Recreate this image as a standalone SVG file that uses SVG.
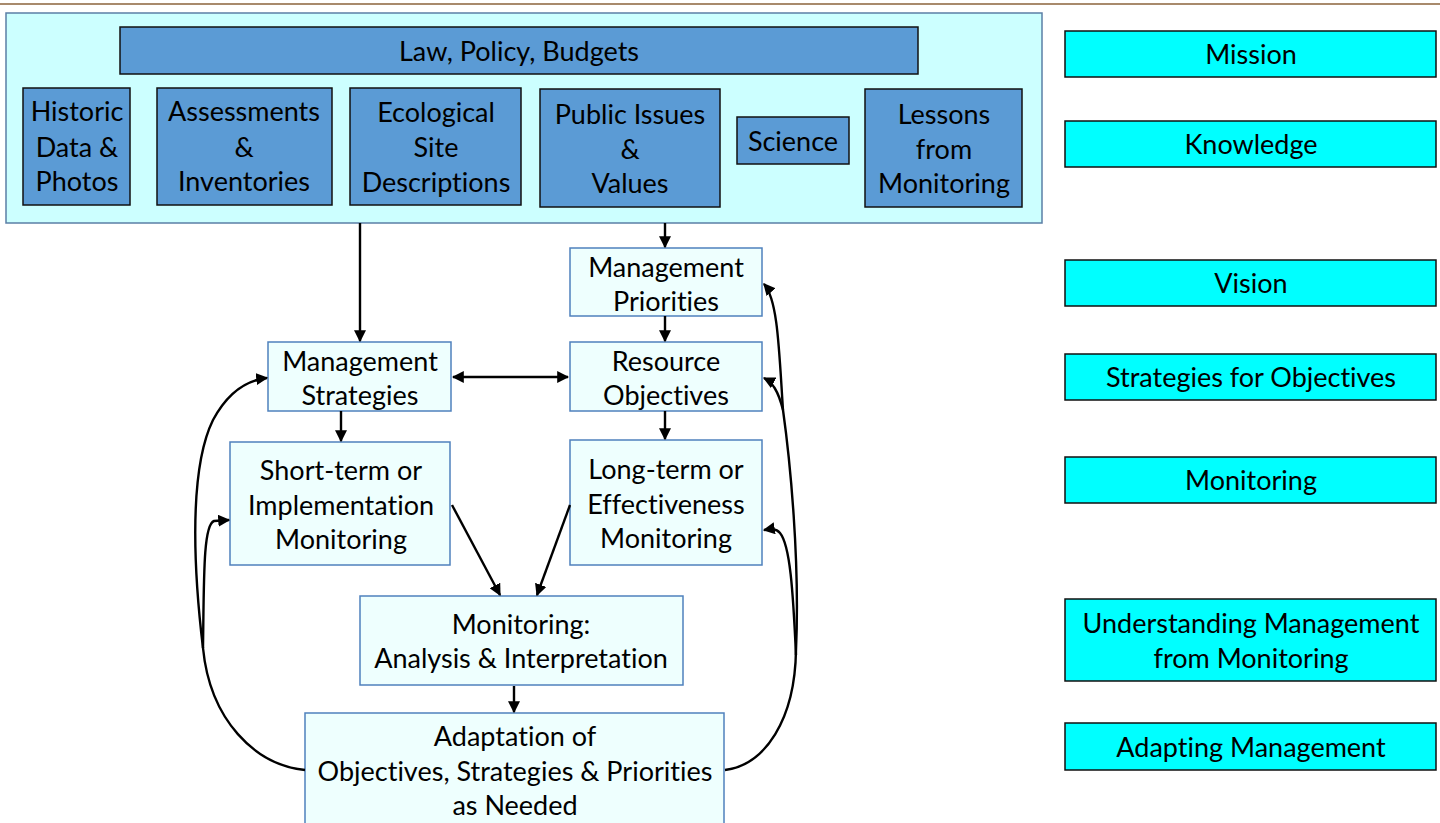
<svg xmlns="http://www.w3.org/2000/svg" width="1440" height="823" viewBox="0 0 1440 823">
<defs>
<style>
text{font-family:Lato,"Open Sans","Liberation Sans",sans-serif;font-size:27px;fill:#000;text-anchor:middle;font-variant-ligatures:none;font-feature-settings:"liga" 0}
.cont{fill:#ccffff;stroke:#5b7fa6;stroke-width:1.5}
.dark{fill:#5b9bd5;stroke:#111;stroke-width:1.5}
.light{fill:#eefffe;stroke:#4f81bd;stroke-width:1.5}
.side{fill:#00ffff;stroke:#111;stroke-width:1.5}
.c{fill:none;stroke:#000;stroke-width:2.4}
</style>
<marker id="ah" viewBox="0 0 10 10" refX="9" refY="5" markerWidth="5" markerHeight="5" orient="auto-start-reverse" markerUnits="strokeWidth">
<path d="M0,0 L10,5 L0,10 z" fill="#000"/>
</marker>
</defs>
<rect width="1440" height="823" fill="#fff"/>
<line x1="0" y1="4" x2="1440" y2="4" stroke="#a88a6c" stroke-width="2"/>

<g id="knowledge-box">
<rect class="cont" x="6" y="13" width="1036" height="210"/>
</g>
<g id="law"><rect class="dark" x="120" y="27" width="798" height="47"/><text x="519" y="61">Law, Policy, Budgets</text></g>
<g id="historic"><rect class="dark" x="23" y="88" width="107" height="117"/><text x="77" y="121">Historic</text><text x="77" y="157">Data &amp;</text><text x="77" y="191">Photos</text></g>
<g id="assessments"><rect class="dark" x="157" y="88" width="175" height="117"/><text x="244" y="121">Assessments</text><text x="244" y="157">&amp;</text><text x="244" y="191">Inventories</text></g>
<g id="ecological"><rect class="dark" x="350" y="88" width="171" height="117"/><text x="436" y="122">Ecological</text><text x="436" y="157">Site</text><text x="436" y="192">Descriptions</text></g>
<g id="public"><rect class="dark" x="540" y="89" width="180" height="118"/><text x="630" y="124">Public Issues</text><text x="630" y="159">&amp;</text><text x="630" y="193">Values</text></g>
<g id="science"><rect class="dark" x="737" y="117" width="112" height="47"/><text x="793" y="151">Science</text></g>
<g id="lessons"><rect class="dark" x="865" y="89" width="157" height="118"/><text x="944" y="124">Lessons</text><text x="944" y="159">from</text><text x="944" y="193">Monitoring</text></g>

<g id="mgmt-priorities"><rect class="light" x="570" y="248" width="192" height="68"/><text x="666" y="277">Management</text><text x="666" y="311">Priorities</text></g>
<g id="mgmt-strategies"><rect class="light" x="268" y="342" width="183" height="69"/><text x="360" y="371">Management</text><text x="360" y="405">Strategies</text></g>
<g id="resource-objectives"><rect class="light" x="570" y="342" width="192" height="69"/><text x="666" y="371">Resource</text><text x="666" y="405">Objectives</text></g>
<g id="short-term"><rect class="light" x="230" y="442" width="220" height="123"/><text x="341" y="480">Short-term or</text><text x="341" y="515">Implementation</text><text x="341" y="549">Monitoring</text></g>
<g id="long-term"><rect class="light" x="570" y="440" width="192" height="125"/><text x="666" y="479">Long-term or</text><text x="666" y="514">Effectiveness</text><text x="666" y="548">Monitoring</text></g>
<g id="analysis"><rect class="light" x="360" y="596" width="323" height="89"/><text x="521" y="634">Monitoring:</text><text x="521" y="668">Analysis &amp; Interpretation</text></g>
<g id="adaptation"><rect class="light" x="305" y="713" width="419" height="120"/><text x="515" y="746">Adaptation of</text><text x="515" y="781">Objectives, Strategies &amp; Priorities</text><text x="515" y="815">as Needed</text></g>

<g id="side-mission"><rect class="side" x="1065" y="31" width="371" height="46"/><text x="1251" y="64">Mission</text></g>
<g id="side-knowledge"><rect class="side" x="1065" y="121" width="371" height="46"/><text x="1251" y="154">Knowledge</text></g>
<g id="side-vision"><rect class="side" x="1065" y="260" width="371" height="46"/><text x="1251" y="293">Vision</text></g>
<g id="side-strategies"><rect class="side" x="1065" y="354" width="371" height="46"/><text x="1251" y="387">Strategies for Objectives</text></g>
<g id="side-monitoring"><rect class="side" x="1065" y="457" width="371" height="46"/><text x="1251" y="490">Monitoring</text></g>
<g id="side-understanding"><rect class="side" x="1065" y="599" width="371" height="82"/><text x="1251" y="633">Understanding Management</text><text x="1251" y="668">from Monitoring</text></g>
<g id="side-adapting"><rect class="side" x="1065" y="723" width="371" height="47"/><text x="1251" y="757">Adapting Management</text></g>

<g id="connectors">
<line class="c" x1="360" y1="223" x2="360" y2="341" marker-end="url(#ah)"/>
<line class="c" x1="665" y1="223" x2="665" y2="247" marker-end="url(#ah)"/>
<line class="c" x1="665" y1="316" x2="665" y2="341" marker-end="url(#ah)"/>
<line class="c" x1="665" y1="411" x2="665" y2="439" marker-end="url(#ah)"/>
<line class="c" x1="341" y1="411" x2="341" y2="441" marker-end="url(#ah)"/>
<line class="c" x1="453" y1="377" x2="568" y2="377" marker-start="url(#ah)" marker-end="url(#ah)"/>
<line class="c" x1="452" y1="505" x2="500" y2="595" marker-end="url(#ah)"/>
<line class="c" x1="570" y1="505" x2="537" y2="595" marker-end="url(#ah)"/>
<line class="c" x1="514" y1="686" x2="514" y2="712" marker-end="url(#ah)"/>
<path class="c" d="M305,770 C255,765 210,720 203,648 C196,590 186,475 213,420 C228,392 248,380 267,378" marker-end="url(#ah)"/>
<path class="c" d="M203,648 C204,580 203,525 214,521 L229,520" marker-end="url(#ah)"/>
<path class="c" d="M725,770 C765,765 795,720 796,650 C800,560 790,460 783,410 C779,350 778,300 764,284" marker-end="url(#ah)"/>
<path class="c" d="M783,410 C778,390 772,382 764,378" marker-end="url(#ah)"/>
<path class="c" d="M796,655 C793,590 790,545 780,533 C776,528 770,529 764,530" marker-end="url(#ah)"/>
</g>
</svg>
